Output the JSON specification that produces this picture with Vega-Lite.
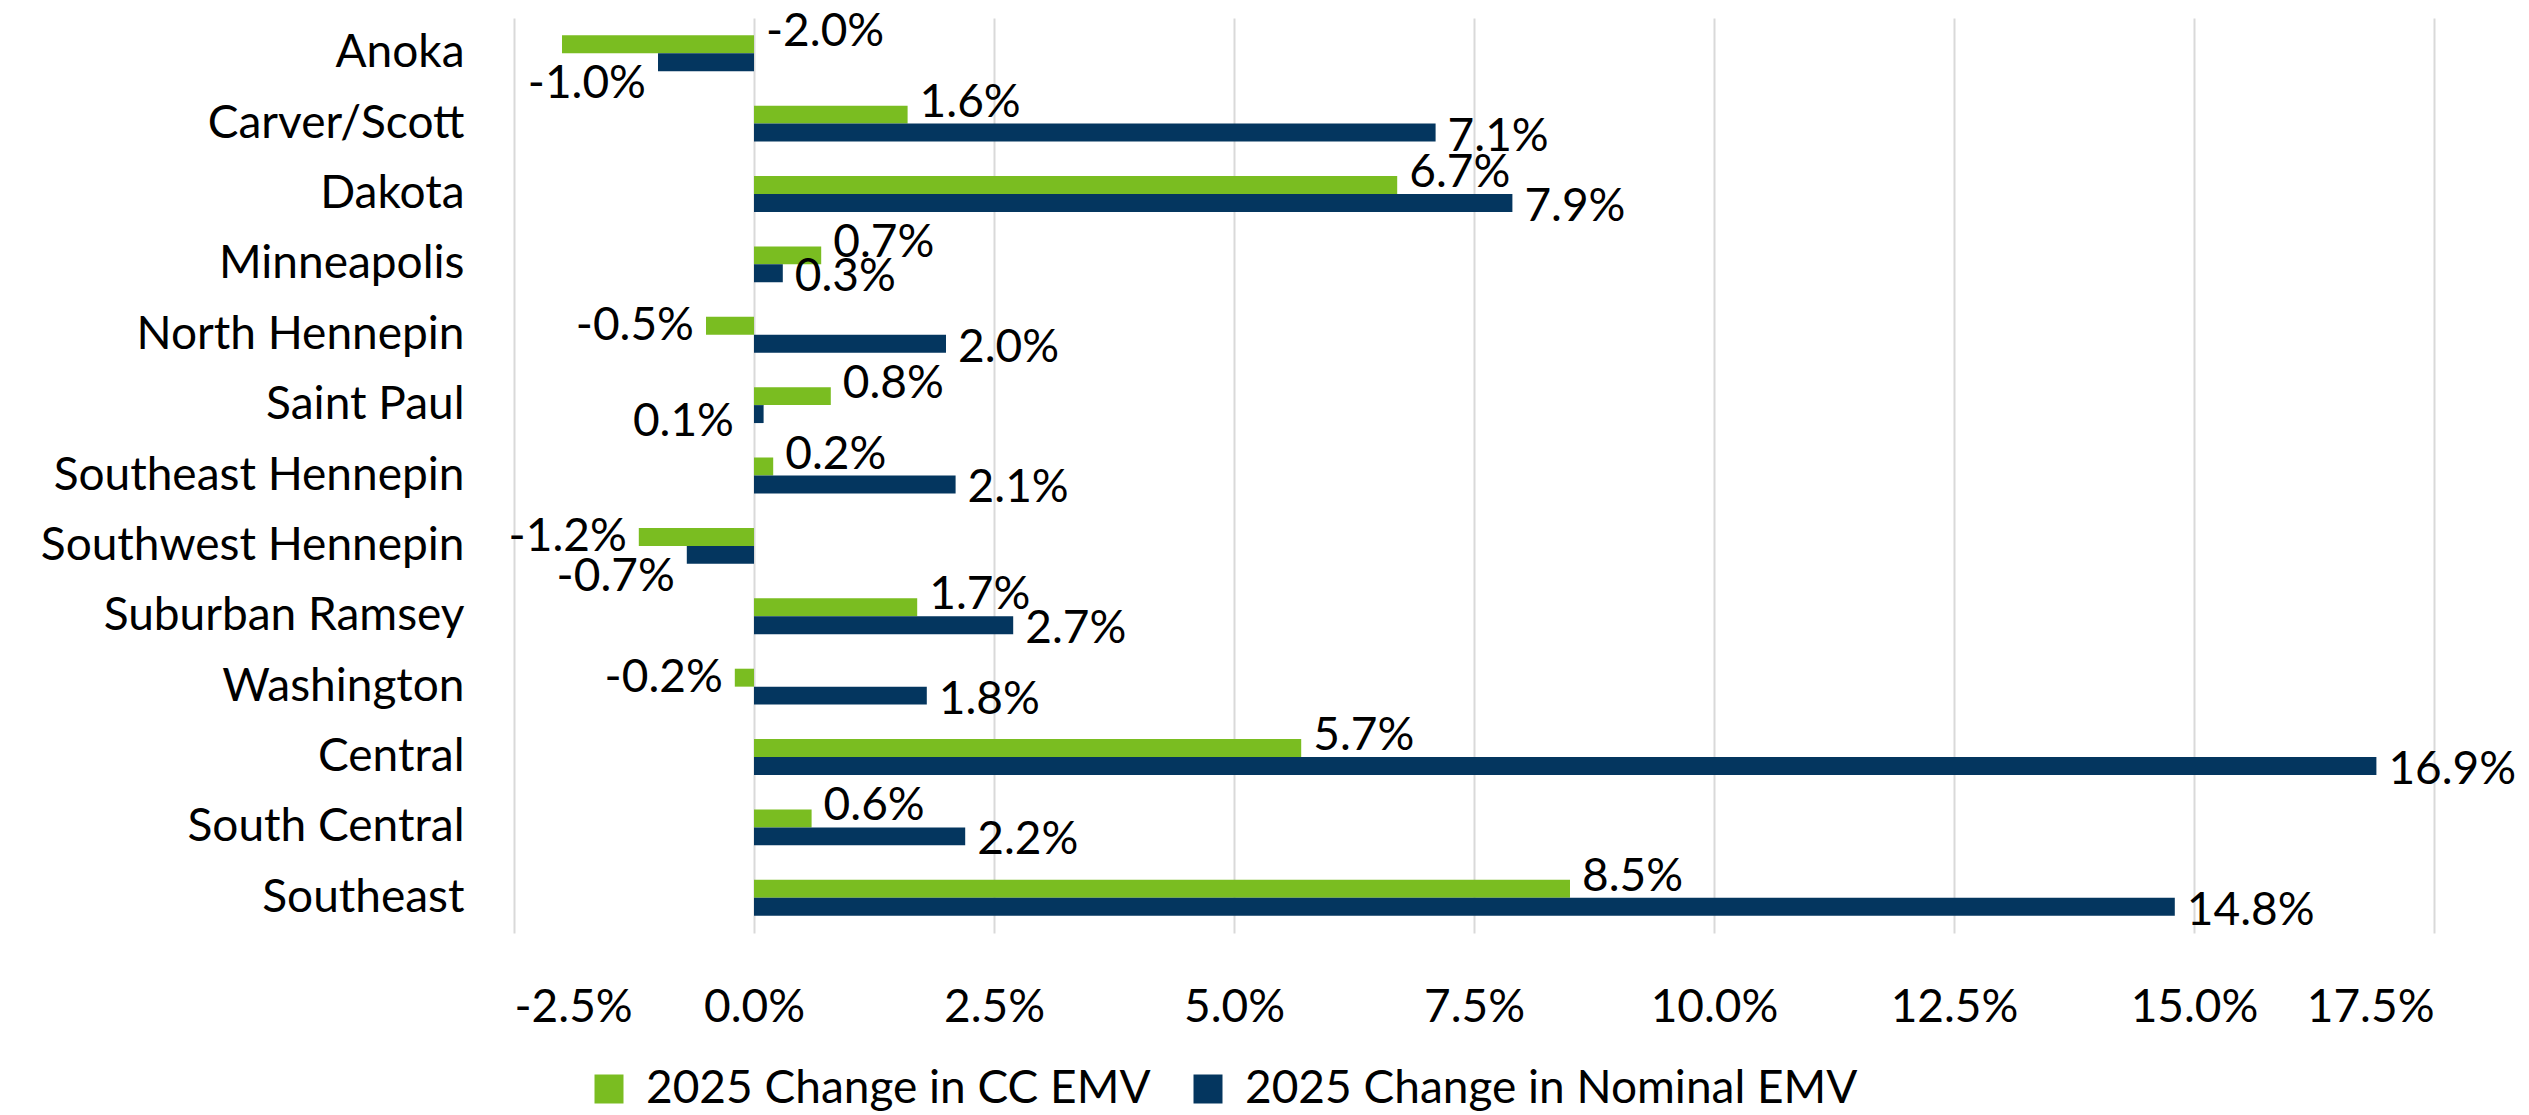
{
  "$schema": "https://vega.github.io/schema/vega-lite/v6.json",
  "autosize": {"type": "none"},
  "width": 1920,
  "height": 915,
  "padding": {"left": 514, "top": 18, "right": 95, "bottom": 182},
  "background": "white",
  "config": {
    "view": {"stroke": null},
    "font": "Lato",
    "locale": {"number": {"decimal": ".", "thousands": ",", "grouping": [3], "currency": ["$", ""], "minus": "-"}}
  },
  "data": {
    "values": [
      {"region": "Anoka", "series": "2025 Change in CC EMV", "v": -0.020},
      {"region": "Anoka", "series": "2025 Change in Nominal EMV", "v": -0.010},
      {"region": "Carver/Scott", "series": "2025 Change in CC EMV", "v": 0.016},
      {"region": "Carver/Scott", "series": "2025 Change in Nominal EMV", "v": 0.071},
      {"region": "Dakota", "series": "2025 Change in CC EMV", "v": 0.067},
      {"region": "Dakota", "series": "2025 Change in Nominal EMV", "v": 0.079},
      {"region": "Minneapolis", "series": "2025 Change in CC EMV", "v": 0.007},
      {"region": "Minneapolis", "series": "2025 Change in Nominal EMV", "v": 0.003},
      {"region": "North Hennepin", "series": "2025 Change in CC EMV", "v": -0.005},
      {"region": "North Hennepin", "series": "2025 Change in Nominal EMV", "v": 0.020},
      {"region": "Saint Paul", "series": "2025 Change in CC EMV", "v": 0.008},
      {"region": "Saint Paul", "series": "2025 Change in Nominal EMV", "v": 0.001},
      {"region": "Southeast Hennepin", "series": "2025 Change in CC EMV", "v": 0.002},
      {"region": "Southeast Hennepin", "series": "2025 Change in Nominal EMV", "v": 0.021},
      {"region": "Southwest Hennepin", "series": "2025 Change in CC EMV", "v": -0.012},
      {"region": "Southwest Hennepin", "series": "2025 Change in Nominal EMV", "v": -0.007},
      {"region": "Suburban Ramsey", "series": "2025 Change in CC EMV", "v": 0.017},
      {"region": "Suburban Ramsey", "series": "2025 Change in Nominal EMV", "v": 0.027},
      {"region": "Washington", "series": "2025 Change in CC EMV", "v": -0.002},
      {"region": "Washington", "series": "2025 Change in Nominal EMV", "v": 0.018},
      {"region": "Central", "series": "2025 Change in CC EMV", "v": 0.057},
      {"region": "Central", "series": "2025 Change in Nominal EMV", "v": 0.169},
      {"region": "South Central", "series": "2025 Change in CC EMV", "v": 0.006},
      {"region": "South Central", "series": "2025 Change in Nominal EMV", "v": 0.022},
      {"region": "Southeast", "series": "2025 Change in CC EMV", "v": 0.085},
      {"region": "Southeast", "series": "2025 Change in Nominal EMV", "v": 0.148}
    ]
  },
  "encoding": {
    "y": {
      "field": "region", "type": "nominal", "sort": null,
      "scale": {"paddingInner": 0.49, "paddingOuter": 0.245},
      "axis": {"title": null, "domain": false, "ticks": false, "labelPadding": 50, "labelFontSize": 46, "labelColor": "#000000", "labelFont": "Lato", "labelLimit": 1000, "grid": false}
    },
    "yOffset": {
      "field": "series", "type": "nominal",
      "scale": {"domain": ["2025 Change in CC EMV", "2025 Change in Nominal EMV"], "paddingInner": 0, "paddingOuter": 0}
    }
  },
  "layer": [
    {
      "mark": {"type": "bar"},
      "encoding": {
        "x": {
          "field": "v", "type": "quantitative",
          "scale": {"domain": [-0.025, 0.175], "nice": false, "zero": false},
          "axis": {"title": null, "format": ".1%", "values": [-0.025, 0, 0.025, 0.05, 0.075, 0.1, 0.125, 0.15, 0.175], "domain": false, "ticks": false, "grid": true, "gridColor": "#d9d9d9", "gridWidth": 2, "labelPadding": 52, "labelFontSize": 46, "labelColor": "#000000", "labelFont": "Lato"}
        },
        "color": {
          "field": "series", "type": "nominal",
          "scale": {"domain": ["2025 Change in CC EMV", "2025 Change in Nominal EMV"], "range": ["#7ABD21", "#04365F"]},
          "legend": {"title": null, "orient": "none", "legendX": 72, "legendY": 1048, "direction": "horizontal", "symbolType": "square", "symbolSize": 841, "symbolStrokeWidth": 0, "labelFontSize": 46, "labelFont": "Lato", "labelColor": "#000000", "columnPadding": 34, "labelOffset": 14, "labelLimit": 800}
        }
      }
    },
    {
      "transform": [{"filter": "datum.series == '2025 Change in CC EMV' && datum.v >= 0"}],
      "mark": {"type": "text", "fontSize": 46, "font": "Lato", "color": "#000000", "dy": -12, "align": "left", "dx": 12},
      "encoding": {
        "x": {"field": "v", "type": "quantitative"},
        "text": {"field": "v", "type": "quantitative", "format": ".1%"}
      }
    },
    {
      "transform": [{"filter": "datum.series == '2025 Change in CC EMV' && datum.v < 0 && datum.v >= -0.015"}],
      "mark": {"type": "text", "fontSize": 46, "font": "Lato", "color": "#000000", "dy": 0, "align": "right", "dx": -12},
      "encoding": {
        "x": {"field": "v", "type": "quantitative"},
        "text": {"field": "v", "type": "quantitative", "format": ".1%"}
      }
    },
    {
      "transform": [{"filter": "datum.series == '2025 Change in CC EMV' && datum.v < -0.015"}],
      "mark": {"type": "text", "fontSize": 46, "font": "Lato", "color": "#000000", "dy": -12, "align": "left", "dx": 12},
      "encoding": {
        "x": {"datum": 0, "type": "quantitative"},
        "text": {"field": "v", "type": "quantitative", "format": ".1%"}
      }
    },
    {
      "transform": [{"filter": "datum.series == '2025 Change in Nominal EMV' && datum.v >= 0.002"}],
      "mark": {"type": "text", "fontSize": 46, "font": "Lato", "color": "#000000", "dy": 4, "align": "left", "dx": 12},
      "encoding": {
        "x": {"field": "v", "type": "quantitative"},
        "text": {"field": "v", "type": "quantitative", "format": ".1%"}
      }
    },
    {
      "transform": [{"filter": "datum.series == '2025 Change in Nominal EMV' && datum.v >= 0 && datum.v < 0.002"}],
      "mark": {"type": "text", "fontSize": 46, "font": "Lato", "color": "#000000", "dy": 8, "align": "right", "dx": -20},
      "encoding": {
        "x": {"datum": 0, "type": "quantitative"},
        "text": {"field": "v", "type": "quantitative", "format": ".1%"}
      }
    },
    {
      "transform": [{"filter": "datum.series == '2025 Change in Nominal EMV' && datum.v < 0"}],
      "mark": {"type": "text", "fontSize": 46, "font": "Lato", "color": "#000000", "dy": 22, "align": "right", "dx": -12},
      "encoding": {
        "x": {"field": "v", "type": "quantitative"},
        "text": {"field": "v", "type": "quantitative", "format": ".1%"}
      }
    }
  ]
}
